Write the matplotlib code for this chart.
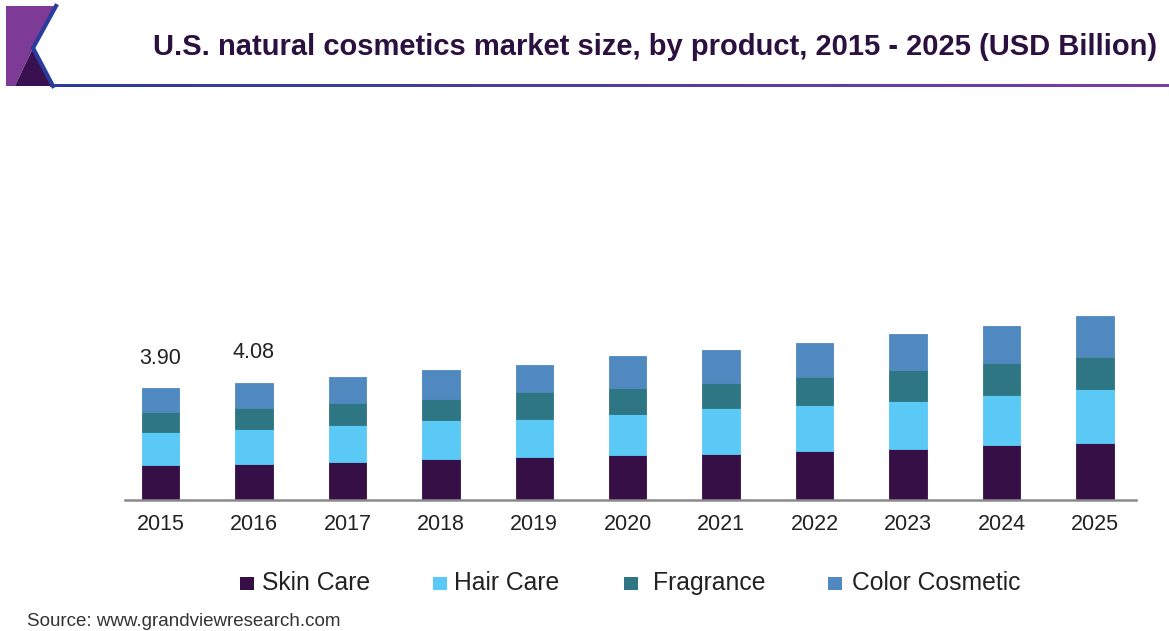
import numpy as np
import matplotlib
matplotlib.use('Agg')
from matplotlib import pyplot as plt
from matplotlib.patches import Polygon, Rectangle

# market size by product, USD billion
years = ['2015', '2016', '2017', '2018', '2019', '2020', '2021', '2022', '2023', '2024', '2025']
skin_care = [1.21, 1.26, 1.33, 1.43, 1.50, 1.56, 1.62, 1.70, 1.77, 1.92, 1.97]
hair_care = [1.15, 1.21, 1.28, 1.36, 1.33, 1.42, 1.57, 1.61, 1.68, 1.75, 1.91]
fragrance = [0.69, 0.75, 0.78, 0.74, 0.92, 0.91, 0.90, 0.97, 1.07, 1.10, 1.10]
color_cosmetic = [0.85, 0.86, 0.90, 1.00, 0.97, 1.14, 1.12, 1.19, 1.25, 1.29, 1.43]
labelled = {0: '3.90', 1: '4.08'}

series = [('Skin Care', skin_care, '#360f46'),
          ('Hair Care', hair_care, '#5bc9f5'),
          ('Fragrance', fragrance, '#2e7683'),
          ('Color Cosmetic', color_cosmetic, '#4f89c0')]

plt.rcParams['font.family'] = ['Liberation Sans', 'DejaVu Sans']

fig = plt.figure(figsize=(11.69, 6.31), dpi=100)
W, H = 1169, 631

def px(x0, y0, x1, y1):
    # pixel box (top-left origin) -> figure fraction rect
    return [x0 / W, 1 - y1 / H, (x1 - x0) / W, (y1 - y0) / H]

# overlay axes in pixel units for header, logo and legend
hdr = fig.add_axes([0, 0, 1, 1], zorder=-1)
hdr.set_xlim(0, W)
hdr.set_ylim(H, 0)
hdr.axis('off')

ax = fig.add_axes(px(125, 300, 1136, 500))
x = np.arange(len(years))
bottom = np.zeros(len(years))
for name, vals, col in series:
    ax.bar(x, vals, 0.40, bottom=bottom, color=col, label=name, edgecolor=col, linewidth=0.6)
    bottom += np.array(vals)

for i, txt in labelled.items():
    ax.annotate(txt, (x[i], bottom[i]), xytext=(0, 14), textcoords='offset points',
                ha='center', va='bottom', fontsize=15.5, color='#222222')

ax.set_xlim(-0.38, 10.44)
ax.set_ylim(0, 200 / 28.7)
for s in ['top', 'right', 'left']:
    ax.spines[s].set_visible(False)
ax.spines['bottom'].set_color('#8a8a8a')
ax.spines['bottom'].set_linewidth(1.8)
ax.set_yticks([])
ax.set_xticks(x)
ax.set_xticklabels(years, fontsize=15.5, color='#222222')
ax.tick_params(axis='x', length=0, pad=10)

# legend row
leg_sq = [247, 440, 631, 835]
leg_tx = [262, 454, 653, 852]
for (name, vals, col), sx, tx in zip(series, leg_sq, leg_tx):
    hdr.add_patch(Rectangle((sx - 7, 577), 14, 13, facecolor=col, edgecolor='none'))
    hdr.text(tx, 583, name, fontsize=17.8, color='#222222', va='center', ha='left')

# title and header rule
hdr.text(153, 47, 'U.S. natural cosmetics market size, by product, 2015 - 2025 (USD Billion)',
         fontsize=21, fontweight='bold', color='#2b1040', va='center', ha='left')

grad = np.linspace(0, 1, 256).reshape(1, -1)
cm = matplotlib.colors.LinearSegmentedColormap.from_list('hdr', ['#2a3c9e', '#7a3fa6'])
hdr.imshow(grad, cmap=cm, extent=(50, W, 87, 84), aspect='auto', interpolation='bilinear')
hdr.set_xlim(0, W)
hdr.set_ylim(H, 0)

# corner logo
hdr.add_patch(Polygon([(6, 6), (55, 6), (33, 48), (15, 86), (6, 86)], closed=True,
                      facecolor='#7e3b96', edgecolor='none'))
hdr.add_patch(Polygon([(33, 48), (15, 86), (53, 86)], closed=True,
                      facecolor='#3a1150', edgecolor='none'))
hdr.plot([56, 33, 53], [6, 48, 86], color='#2a3c9e', linewidth=3, solid_joinstyle='miter')

hdr.text(27, 621, 'Source: www.grandviewresearch.com', fontsize=13.5,
         color='#333333', va='center', ha='left')

fig.savefig('out.png', dpi=100)
